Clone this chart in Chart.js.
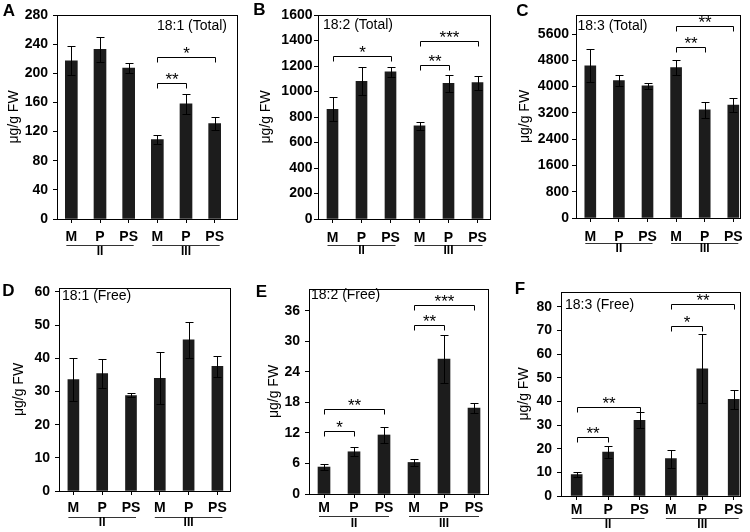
<!DOCTYPE html>
<html><head><meta charset="utf-8">
<script src="https://cdn.jsdelivr.net/npm/chart.js@4.4.1/dist/chart.umd.min.js"></script>
<style>
html,body{margin:0;padding:0;background:#fff;}
body{width:750px;height:532px;position:relative;overflow:hidden;}
canvas{position:absolute;}
</style></head><body>
<canvas id="cA" width="250" height="262" style="left:0px;top:0px"></canvas>
<canvas id="cB" width="250" height="262" style="left:250px;top:0px"></canvas>
<canvas id="cC" width="250" height="262" style="left:500px;top:0px"></canvas>
<canvas id="cD" width="250" height="270" style="left:0px;top:262px"></canvas>
<canvas id="cE" width="250" height="270" style="left:250px;top:262px"></canvas>
<canvas id="cF" width="250" height="270" style="left:500px;top:262px"></canvas>
<script>
// ---------- data ----------
const categories = ['M','P','PS','M','P','PS'];
const groupLabels = ['II','III'];
const groupFirst = [0,3];
const groupLast = [2,5];
const yAxisTitle = 'μg/g FW';

const total181 = [217,233,207,109,158,131];
const total181Err = [20,17,7,6,14,9];
const total182 = [860,1080,1155,730,1065,1070];
const total182Err = [95,110,40,30,65,55];
const total183 = [4630,4180,4020,4580,3290,3440];
const total183Err = [500,170,80,230,250,220];
const free181 = [33.6,35.4,28.8,34.0,45.6,37.6];
const free181Err = [6.6,4.3,0.6,7.8,5.4,3.2];
const free182 = [5.3,8.3,11.6,6.2,26.5,16.9];
const free182Err = [0.55,0.9,1.5,0.65,4.7,1.0];
const free183 = [9.0,18.6,32.0,15.8,53.7,40.8];
const free183Err = [1.1,2.6,3.3,3.8,14.6,3.9];

// significance brackets: [from index, to index, stars, bracket level]
const sigTotal181 = [[3,4,'**',187],[3,5,'*',223]];
const sigTotal182 = [[0,2,'*',1277],[3,4,'**',1206],[3,5,'***',1395]];
const sigTotal183 = [[3,4,'**',5213],[3,5,'**',5843]];
const sigFree181 = [];
const sigFree182 = [[0,1,'*',12.4],[0,2,'**',16.7],[3,4,'**',33.2],[3,5,'***',37.1]];
const sigFree183 = [[0,1,'**',25.0],[0,2,'**',37.5],[3,4,'*',72.0],[3,5,'**',81.3]];

const ticksTotal181 = [0,40,80,120,160,200,240,280];
const ticksTotal182 = [0,200,400,600,800,1000,1200,1400,1600];
const ticksTotal183 = [0,800,1600,2400,3200,4000,4800,5600];
const ticksFree181 = [0,10,20,30,40,50,60];
const ticksFree182 = [0,6,12,18,24,30,36];
const ticksFree183 = [0,10,20,30,40,50,60,70,80];

// ---------- panels ----------
const FONT = "'Liberation Sans', Arial, Helvetica, sans-serif";
const panels = [
 {id:'cA', letter:'A', title:'18:1 (Total)', values:total181, errors:total181Err, sig:sigTotal181, ticks:ticksTotal181, yMax:280,
  s:{yWidth:57, padR:21, padT:15, xHeight:43, frameR:237, bar:12, yPad:5, yTitlePad:5.6, xPad:5.5, ulOff:25.5, glOff:32.5, tAlign:'right', tdx:-10, tdy:11.5, lx:9, ly:11}},
 {id:'cB', letter:'B', title:'18:2 (Total)', values:total182, errors:total182Err, sig:sigTotal182, ticks:ticksTotal182, yMax:1600,
  s:{yWidth:68, padR:8, padT:15, xHeight:43, frameR:240, bar:11, yPad:1.5, yTitlePad:8, xPad:6.5, ulOff:26, glOff:32, tAlign:'left', tdx:5, tdy:10, lx:9.5, ly:10}},
 {id:'cC', letter:'C', title:'18:3 (Total)', values:total183, errors:total183Err, sig:sigTotal183, ticks:ticksTotal183, yMax:6180,
  s:{yWidth:76, padR:2.4, padT:15, xHeight:44, frameR:240, bar:11, yPad:3, yTitlePad:16.6, xPad:7, ulOff:24.5, glOff:31, tAlign:'left', tdx:1.5, tdy:11, lx:22.5, ly:11}},
 {id:'cD', letter:'D', title:'18:1 (Free)', values:free181, errors:free181Err, sig:sigFree181, ticks:ticksFree181, yMax:61.2,
  s:{yWidth:59, padR:18.2, padT:26, xHeight:41, frameR:230, bar:11, yPad:5, yTitlePad:10.6, xPad:5, ulOff:25.5, glOff:32, tAlign:'left', tdx:3, tdy:8.4, lx:8.5, ly:29}},
 {id:'cE', letter:'E', title:'18:2 (Free)', values:free182, errors:free182Err, sig:sigFree182, ticks:ticksFree182, yMax:40.3,
  s:{yWidth:59, padR:11, padT:27, xHeight:38, frameR:238, bar:12, yPad:5, yTitlePad:15.6, xPad:2, ulOff:22, glOff:29.5, tAlign:'left', tdx:2, tdy:6, lx:11.5, ly:30.5}},
 {id:'cF', letter:'F', title:'18:3 (Free)', values:free183, errors:free183Err, sig:sigFree183, ticks:ticksFree183, yMax:86.2,
  s:{yWidth:61, padR:0.6, padT:30, xHeight:36, frameR:240, bar:11, yPad:5, yTitlePad:15.6, xPad:1.6, ulOff:21.5, glOff:29, tAlign:'left', tdx:4, tdy:13.6, lx:20, ly:27}}
];

const h = v => Math.round(v) + 0.5;

function panelPlugin(p){
  const s = p.s;
  return {
    id:'panelDecor',
    afterDatasetsDraw(chart){
      const ctx = chart.ctx, ca = chart.chartArea;
      const xs = chart.scales.x, ys = chart.scales.y;
      const meta = chart.getDatasetMeta(0);
      ctx.save();
      ctx.strokeStyle = '#000'; ctx.lineWidth = 1;
      // error bars
      const errs = chart.data.datasets[0].errors;
      meta.data.forEach((bar, i) => {
        const v = chart.data.datasets[0].data[i];
        const x = h(bar.x);
        const yT = h(ys.getPixelForValue(v + errs[i]));
        const yB = h(ys.getPixelForValue(v - errs[i]));
        ctx.beginPath();
        ctx.moveTo(x, yT); ctx.lineTo(x, yB);
        ctx.moveTo(x - 4, yT); ctx.lineTo(x + 4, yT);
        ctx.moveTo(x - 4, yB); ctx.lineTo(x + 4, yB);
        ctx.stroke();
      });
      // frame
      ctx.strokeRect(h(ca.left), h(ca.top), Math.round(s.frameR) - Math.round(ca.left), Math.round(ca.bottom) - Math.round(ca.top));
      // significance brackets
      ctx.fillStyle = '#000';
      ctx.font = '17px ' + FONT;
      ctx.textAlign = 'center'; ctx.textBaseline = 'alphabetic';
      p.sig.forEach(([a, b, lab, lvl]) => {
        const x1 = h(xs.getPixelForValue(a)), x2 = h(xs.getPixelForValue(b));
        const y = h(ys.getPixelForValue(lvl));
        ctx.beginPath();
        ctx.moveTo(x1, y + 5); ctx.lineTo(x1, y); ctx.lineTo(x2, y); ctx.lineTo(x2, y + 5);
        ctx.stroke();
        ctx.fillText(lab, (x1 + x2) / 2, y + 1.5);
      });
      // group underlines and labels
      ctx.strokeStyle = '#333';
      ctx.font = 'bold 12px ' + FONT;
      ctx.textBaseline = 'middle';
      groupLabels.forEach((g, i) => {
        const x1 = xs.getPixelForValue(groupFirst[i]) - 5;
        const x2 = xs.getPixelForValue(groupLast[i]) + 5;
        const y = h(ca.bottom + s.ulOff);
        ctx.beginPath(); ctx.moveTo(x1, y); ctx.lineTo(x2, y); ctx.stroke();
        ctx.fillText(g, (x1 + x2) / 2, ca.bottom + s.glOff);
      });
      // panel title
      ctx.font = '14px ' + FONT;
      ctx.textAlign = s.tAlign;
      const tx = s.tAlign === 'right' ? s.frameR + s.tdx : ca.left + s.tdx;
      ctx.fillText(p.title, tx, ca.top + s.tdy);
      // panel letter
      ctx.font = 'bold 17px ' + FONT;
      ctx.textAlign = 'center';
      ctx.fillText(p.letter, s.lx, s.ly);
      ctx.restore();
    }
  };
}

function makeChart(p){
  const s = p.s;
  const tickFont = {family:FONT, size:14, weight:'bold'};
  new Chart(document.getElementById(p.id), {
    type:'bar',
    data:{labels:categories, datasets:[{data:p.values, errors:p.errors, backgroundColor:'#1c1c1c', borderWidth:0, barThickness:s.bar}]},
    options:{
      responsive:false, animation:false, events:[],
      layout:{padding:{left:0, right:s.padR, top:s.padT, bottom:0}},
      plugins:{legend:{display:false}, tooltip:{enabled:false}, title:{display:false}},
      scales:{
        x:{
          offset:true,
          grid:{display:true, drawOnChartArea:false, drawTicks:true, tickLength:4, offset:false, color:'#000', lineWidth:1},
          border:{display:false},
          ticks:{font:tickFont, color:'#000', padding:s.xPad, maxRotation:0, autoSkip:false},
          afterFit(scale){ scale.height = s.xHeight; }
        },
        y:{
          min:0, max:p.yMax,
          grid:{display:true, drawOnChartArea:false, drawTicks:true, tickLength:4, color:'#000', lineWidth:1},
          border:{display:false},
          ticks:{font:tickFont, color:'#000', padding:s.yPad, callback:v => String(v)},
          afterBuildTicks(axis){ axis.ticks = p.ticks.map(v => ({value:v})); },
          title:{display:true, text:yAxisTitle, font:{family:FONT, size:14}, color:'#000', padding:{top:s.yTitlePad, bottom:0}},
          afterFit(scale){ scale.width = s.yWidth; }
        }
      }
    },
    plugins:[panelPlugin(p)]
  });
}
panels.forEach(makeChart);
</script>
</body></html>
